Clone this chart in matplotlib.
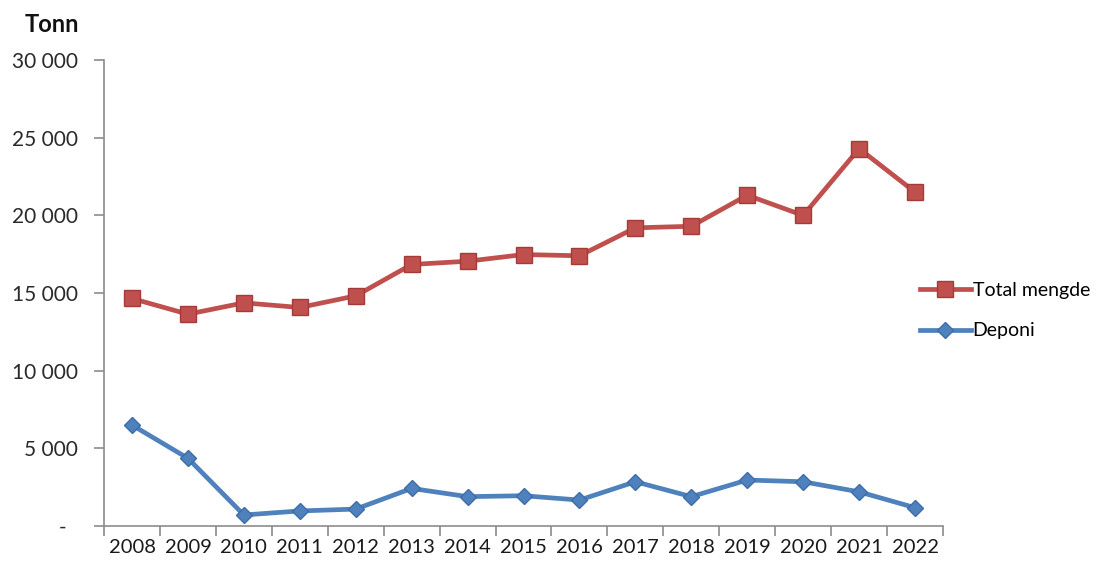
import matplotlib

matplotlib.use("Agg")
import matplotlib.pyplot as plt
from matplotlib.ticker import FuncFormatter, FixedLocator

years = ["2008", "2009", "2010", "2011", "2012", "2013", "2014", "2015",
         "2016", "2017", "2018", "2019", "2020", "2021", "2022"]
total_mengde = [14650, 13640, 14370, 14070, 14820, 16840, 17050, 17480,
                17400, 19200, 19300, 21300, 20000, 24300, 21500]
deponi = [6500, 4360, 710, 970, 1090, 2420, 1890, 1950,
          1670, 2850, 1890, 2960, 2850, 2200, 1180]

plt.rcParams["font.family"] = ["Lato", "DejaVu Sans"]

fig = plt.figure(figsize=(11.14, 5.67), dpi=100)
ax = fig.add_axes([0.0934, 0.0723, 0.7531, 0.8217])

xs = list(range(len(years)))
ax.plot(xs, total_mengde, color="#C0504D", linewidth=3.4, marker="s", markersize=11,
        markerfacecolor="#C0504D", markeredgecolor="#A33B38", markeredgewidth=1,
        label="Total mengde")
ax.plot(xs, deponi, color="#4F81BD", linewidth=3.4, marker="D", markersize=8.5,
        markerfacecolor="#4F81BD", markeredgecolor="#3D6DA8", markeredgewidth=1,
        label="Deponi")

ax.set_xlim(-0.5, len(years) - 0.5)
ax.set_ylim(0, 30000)
ax.set_yticks(range(0, 30001, 5000))
ax.yaxis.set_major_formatter(FuncFormatter(lambda v, _: "-  " if v == 0 else f"{int(v):,}".replace(",", " ")))

ax.xaxis.set_major_locator(FixedLocator([i - 0.5 for i in range(len(years) + 1)]))
ax.set_xticklabels([])
ax.xaxis.set_minor_locator(FixedLocator(xs))
ax.set_xticklabels(years, minor=True)
ax.tick_params(axis="x", which="minor", length=0, pad=9, labelsize=14.5, labelcolor="#1a1a1a")
ax.tick_params(axis="x", which="major", length=7, width=1.2, color="#8c8c8c")
ax.tick_params(axis="y", length=7, width=1.2, color="#8c8c8c", pad=12, labelsize=15, labelcolor="#2a2a2a")

for side in ("top", "right"):
    ax.spines[side].set_visible(False)
for side in ("left", "bottom"):
    ax.spines[side].set_color("#8c8c8c")
    ax.spines[side].set_linewidth(1.2)

fig.text(0.022, 0.956, "Tonn", fontsize=17, fontweight="bold", color="#111111", va="center")

ax.legend(loc="center left", bbox_to_anchor=(0.826, 0.452), bbox_transform=fig.transFigure,
          frameon=False, fontsize=14, borderaxespad=0, borderpad=0,
          handlelength=2.6, handletextpad=0.1, labelspacing=1.2)

fig.savefig("out.png", dpi=100)
